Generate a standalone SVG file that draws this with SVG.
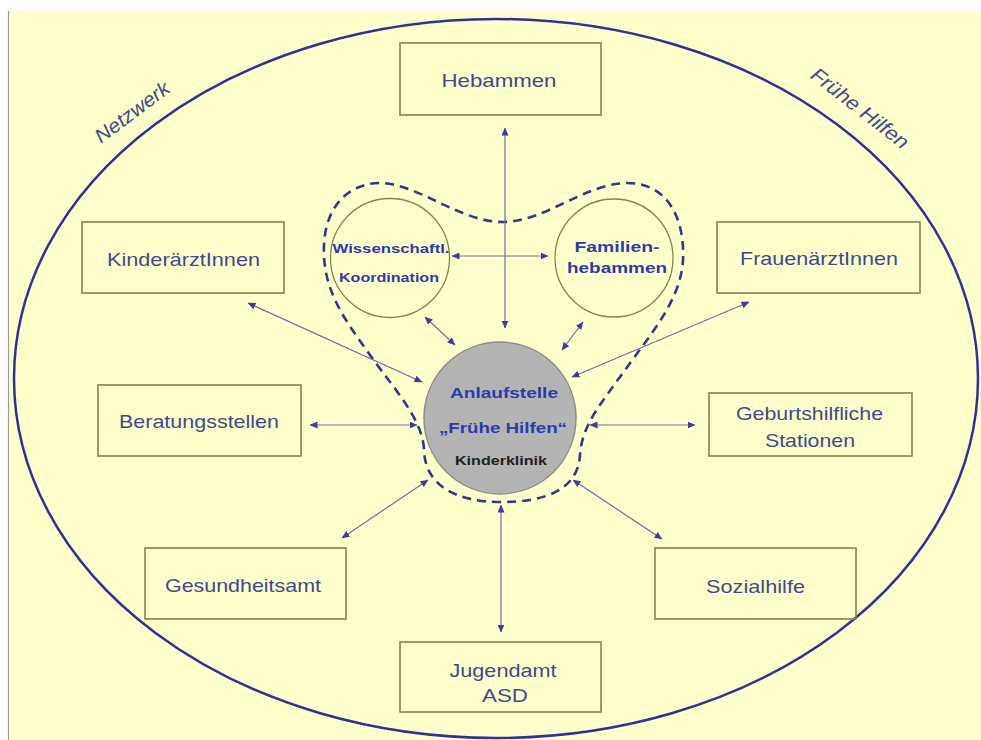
<svg xmlns="http://www.w3.org/2000/svg" width="981" height="740" viewBox="0 0 981 740">
<style>
.box{fill:none;stroke:#8a7f4e;stroke-width:1.6}
.lbl{font-family:"Liberation Sans",Arial,sans-serif;font-size:19px;fill:#3d4a8f;text-anchor:middle}
.blue{font-family:"Liberation Sans",Arial,sans-serif;font-weight:bold;fill:#2c3cae;text-anchor:middle}
.ring{fill:none;stroke:#8a7f4e;stroke-width:1.3}
.con{stroke:#6e6ea6;stroke-width:1.2;fill:none;marker-start:url(#ah);marker-end:url(#ah)}
.side{font-family:"Liberation Sans",Arial,sans-serif;font-size:20px;font-style:italic;fill:#3d4a8f;text-anchor:middle}
</style>
<defs>
<marker id="ah" viewBox="0 0 8 7" refX="7.5" refY="3.5" markerWidth="8" markerHeight="7" markerUnits="userSpaceOnUse" orient="auto-start-reverse">
<path d="M0,0 L8,3.5 L0,7 Z" fill="#3c3c9c"/>
</marker>
</defs>
<rect x="0" y="0" width="981" height="740" fill="#ffffff"/>
<rect x="9" y="11" width="972" height="729" fill="#ffffcc"/>
<line x1="8.5" y1="11" x2="8.5" y2="740" stroke="#9a9a9a" stroke-width="1.2"/>

<g id="network-ellipse">
<ellipse cx="496" cy="378.5" rx="482" ry="359.5" fill="none" stroke="#2b3494" stroke-width="2.5"/>
<text class="side" transform="translate(132,112) rotate(-37)" x="0" y="7" textLength="88" lengthAdjust="spacingAndGlyphs">Netzwerk</text>
<text class="side" transform="translate(860,108) rotate(38)" x="0" y="7" textLength="118" lengthAdjust="spacingAndGlyphs">Frühe Hilfen</text>
</g>

<g id="core-group">
<path d="M 501 502 C 455 502 425 485 424 450 C 423 420 395 390 370 355 C 345 320 322 290 324 245 C 326 200 355 182 382 183 C 420 185 460 222 503 222 C 545 222 585 183 628 183 C 665 183 685 215 683 260 C 681 300 650 335 625 370 C 600 405 582 425 580 455 C 578 490 545 502 501 502 Z" fill="none" stroke="#2e3a8a" stroke-width="2.6" stroke-dasharray="9,6"/>
</g>

<g id="connectors">
<line class="con" x1="505" y1="128" x2="505" y2="328"/>
<line class="con" x1="452" y1="256" x2="548" y2="256"/>
<line class="con" x1="425" y1="317" x2="455" y2="345"/>
<line class="con" x1="583" y1="322" x2="562" y2="350"/>
<line class="con" x1="248" y1="303" x2="422" y2="382"/>
<line class="con" x1="749" y1="302" x2="572" y2="377"/>
<line class="con" x1="310" y1="425" x2="417" y2="425"/>
<line class="con" x1="590" y1="425" x2="695" y2="425"/>
<line class="con" x1="428" y1="480" x2="342" y2="538"/>
<line class="con" x1="573" y1="480" x2="662" y2="539"/>
<line class="con" x1="501" y1="505" x2="501" y2="632"/>
</g>

<g id="anlaufstelle">
<circle cx="500" cy="418" r="76" fill="#b3b3b3" stroke="#8c8c8c" stroke-width="1.5"/>
<text class="blue" x="504" y="398" font-size="15" textLength="108" lengthAdjust="spacingAndGlyphs">Anlaufstelle</text>
<text class="blue" x="503" y="433" font-size="15" textLength="128" lengthAdjust="spacingAndGlyphs">„Frühe Hilfen“</text>
<text x="501" y="465" font-family="Liberation Sans,Arial,sans-serif" font-weight="bold" font-size="12" fill="#222222" text-anchor="middle" textLength="92" lengthAdjust="spacingAndGlyphs">Kinderklinik</text>
</g>

<g id="wissenschaftl-koordination">
<circle class="ring" cx="390" cy="258" r="59.5"/>
<text class="blue" x="391" y="253" font-size="12" textLength="117" lengthAdjust="spacingAndGlyphs">Wissenschaftl.</text>
<text class="blue" x="389" y="282" font-size="12" textLength="100" lengthAdjust="spacingAndGlyphs">Koordination</text>
</g>

<g id="familienhebammen">
<circle class="ring" cx="614" cy="258" r="59"/>
<text class="blue" x="617" y="252" font-size="15" textLength="85" lengthAdjust="spacingAndGlyphs">Familien-</text>
<text class="blue" x="617" y="273" font-size="15" textLength="100" lengthAdjust="spacingAndGlyphs">hebammen</text>
</g>

<g id="hebammen">
<rect class="box" x="400" y="43" width="201" height="72"/>
<text class="lbl" x="499" y="87" textLength="115" lengthAdjust="spacingAndGlyphs">Hebammen</text>
</g>

<g id="kinderaerztinnen">
<rect class="box" x="82" y="222" width="202" height="71"/>
<text class="lbl" x="183.5" y="266" textLength="153" lengthAdjust="spacingAndGlyphs">KinderärztInnen</text>
</g>

<g id="frauenaerztinnen">
<rect class="box" x="717" y="222" width="203" height="71"/>
<text class="lbl" x="819" y="265" textLength="158" lengthAdjust="spacingAndGlyphs">FrauenärztInnen</text>
</g>

<g id="beratungsstellen">
<rect class="box" x="98" y="385" width="203" height="71"/>
<text class="lbl" x="199" y="428" textLength="160" lengthAdjust="spacingAndGlyphs">Beratungsstellen</text>
</g>

<g id="geburtshilfliche-stationen">
<rect class="box" x="709" y="393" width="203" height="63"/>
<text class="lbl" x="809.5" y="420" textLength="147" lengthAdjust="spacingAndGlyphs">Geburtshilfliche</text>
<text class="lbl" x="810" y="447" textLength="90" lengthAdjust="spacingAndGlyphs">Stationen</text>
</g>

<g id="gesundheitsamt">
<rect class="box" x="145" y="548" width="201" height="71"/>
<text class="lbl" x="243" y="592" textLength="156" lengthAdjust="spacingAndGlyphs">Gesundheitsamt</text>
</g>

<g id="sozialhilfe">
<rect class="box" x="655" y="548" width="201" height="71"/>
<text class="lbl" x="755.5" y="593" textLength="99" lengthAdjust="spacingAndGlyphs">Sozialhilfe</text>
</g>

<g id="jugendamt-asd">
<rect class="box" x="400" y="642" width="201" height="70"/>
<text class="lbl" x="503" y="677" textLength="107" lengthAdjust="spacingAndGlyphs">Jugendamt</text>
<text class="lbl" x="505" y="702" textLength="46" lengthAdjust="spacingAndGlyphs">ASD</text>
</g>
</svg>
